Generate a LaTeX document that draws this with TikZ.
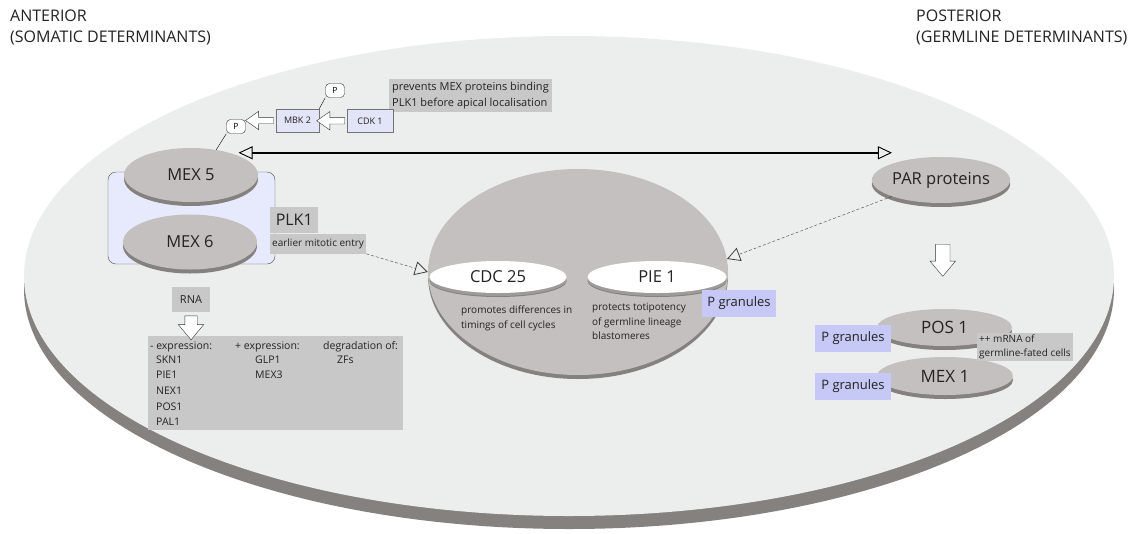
\documentclass[tikz,border=0pt]{standalone}
\usepackage{fontspec}
\setmainfont{Open Sans}
\usepackage{tikz}
\usetikzlibrary{calc,shapes.geometric,shapes.arrows,arrows.meta,shadows,positioning}
\definecolor{cellgrey}{RGB}{236,238,237}
\definecolor{rimgrey}{RGB}{133,129,127}
\definecolor{diskgrey}{RGB}{195,192,191}
\definecolor{boxgrey}{RGB}{200,200,200}
\definecolor{kinase}{RGB}{226,228,247}
\definecolor{granule}{RGB}{198,200,245}
\definecolor{mexback}{RGB}{230,234,252}
\definecolor{inktext}{RGB}{35,35,35}
\tikzstyle{disk}=[ellipse,fill=diskgrey,inner sep=0pt,text=inktext,font=\fontsize{16.5}{20}\selectfont,drop shadow={shadow xshift=0pt,shadow yshift=-4pt,fill=rimgrey,opacity=1}]
\tikzstyle{lens}=[disk,fill=white,drop shadow={shadow xshift=0pt,shadow yshift=-3pt,fill=rimgrey!80,opacity=1}]
\tikzstyle{greybox}=[rectangle,fill=boxgrey,inner sep=3pt,text=inktext,align=left]
\tikzstyle{kinasebox}=[rectangle,draw=black!55,fill=kinase,inner sep=0pt,minimum height=23pt,text=inktext,font=\fontsize{9}{11}\selectfont]
\tikzstyle{pbox}=[rectangle,rounded corners=4pt,draw=black!80,fill=white,inner sep=0pt,minimum width=19pt,minimum height=14pt,font=\fontsize{8.5}{10}\selectfont]
\tikzstyle{granulebox}=[rectangle,fill=granule,minimum width=76pt,minimum height=27pt,inner sep=0pt,text=inktext,font=\fontsize{13}{15}\selectfont]
\tikzstyle{hollow}=[single arrow,draw=black!80,fill=white,thin]
\tikzstyle{smalltext}=[font=\fontsize{10}{15}\selectfont,text=inktext,align=left,inner sep=0pt]
\tikzstyle{listtext}=[font=\fontsize{10.5}{12}\selectfont,text=inktext,inner sep=0pt]
\tikzstyle{sidetitle}=[anchor=north west,align=left,inner sep=0pt,text=inktext,font=\fontsize{16}{21}\selectfont]
\tikzstyle{boldarrow}=[line width=2.2pt,{Triangle[open,length=14pt,width=13pt,line width=0.9pt]}-{Triangle[open,length=14pt,width=13pt,line width=0.9pt]}]
\tikzstyle{faintarrow}=[thin,densely dashed,draw=black!75,-{Triangle[open,length=13pt,width=14pt,line width=0.8pt]}]

\begin{document}
\begin{tikzpicture}[x=1pt,y=-1pt]
\useasboundingbox (0,0) rectangle (1134,533);
\fill[white] (0,0) rectangle (1134,533);
\fill[rimgrey] (569,289) ellipse [x radius=545pt,y radius=240pt];
\fill[cellgrey] (569,276) ellipse [x radius=545pt,y radius=240pt];

\draw (10,10) node [sidetitle] (ant) {ANTERIOR\\(SOMATIC DETERMINANTS)};
\draw (916,10) node [sidetitle] (post) {POSTERIOR\\(GERMLINE DETERMINANTS)};

\draw (191.5,218) node [rectangle,rounded corners=8pt,draw=black!70,fill=mexback,minimum width=167pt,minimum height=92pt] (pair) {};
\draw (191,175) node [disk,minimum width=134pt,minimum height=54pt] (mex5) {MEX 5};
\draw (190,242) node [disk,minimum width=134pt,minimum height=55pt] (mex6) {MEX 6};

\draw (389,79) node [greybox,anchor=north west,font=\fontsize{11}{16}\selectfont] (prev) {prevents MEX proteins binding\\PLK1 before apical localisation};
\draw (297.5,120.5) node [kinasebox,minimum width=43pt] (mbk) {MBK 2};
\draw (370,121) node [kinasebox,minimum width=46pt] (cdk) {CDK 1};
\draw (335,90.5) node [pbox] (pmbk) {P};
\draw (236,126.5) node [pbox] (pmex) {P};
\draw[thin] (mbk.north east) -- (pmbk.south west);
\draw[thin] (pmex.south west) -- (mex5.45);
\draw ($(cdk.west)!0.5!(mbk.east)$) node [hollow,shape border rotate=180,inner sep=3pt,minimum height=28pt,single arrow head extend=6pt,single arrow tip angle=70] (cdkarrow) {};
\draw ($(mbk.west)+(-14,0)$) node [hollow,shape border rotate=180,inner sep=3pt,minimum height=28pt,single arrow head extend=6pt,single arrow tip angle=70] (mbkarrow) {};

\draw (270,207) node [greybox,anchor=north west,inner sep=0pt,minimum width=48pt,minimum height=26pt,font=\fontsize{16}{18}\selectfont] (plk) {PLK1};
\node [greybox,below right=0pt and 0pt of plk.south west,inner sep=2pt,minimum height=20pt,font=\fontsize{10}{12}\selectfont] (plkinfo) {earlier mitotic entry};

\draw (191,299.5) node [greybox,inner sep=0pt,minimum width=38pt,minimum height=25pt,font=\fontsize{11}{13}\selectfont] (rna) {RNA};
\draw (148,336) node [greybox,anchor=north west,minimum width=255pt,minimum height=94pt] (targets) {};
\draw ($(rna.south)!0.5!(targets.north -| rna.south)$) node [hollow,shape border rotate=270,inner sep=6pt,minimum height=24pt,single arrow head extend=6.5pt,single arrow tip angle=80] (rnaarrow) {};
\draw (150,349) node [listtext,anchor=base west] (hdminus) {- expression:};
\draw (235,349) node [listtext,anchor=base west] (hdplus) {+ expression:};
\draw (323,349) node [listtext,anchor=base west] (hddeg) {degradation of:};
\foreach \gene [count=\i from 0] in {SKN1,PIE1,NEX1,POS1,PAL1}
  \draw (156,363+15.7*\i) node [listtext,anchor=base west] (minus\i) {\gene};
\foreach \gene [count=\i from 0] in {GLP1,MEX3}
  \draw (255,363+15.7*\i) node [listtext,anchor=base west] (plus\i) {\gene};
\draw (337,363) node [listtext,anchor=base west] (deg0) {ZFs};

\draw (578,272) node [disk,minimum width=300pt,minimum height=206pt] (core) {};
\draw (498,277) node [lens,minimum width=137pt,minimum height=32pt] (cdc) {CDC 25};
\draw (657,277) node [lens,minimum width=139pt,minimum height=32pt] (pie) {PIE 1};
\draw (461,306) node [smalltext,anchor=north west] (cdcnote) {promotes differences in\\timings of cell cycles};
\draw (592,303) node [smalltext,anchor=north west,font=\fontsize{10}{14.5}\selectfont] (pienote) {protects totipotency\\of germline lineage\\blastomeres};
\draw (739,303.5) node [granulebox,minimum width=74pt] (pgcore) {P granules};

\draw (941,180) node [disk,minimum width=132pt,minimum height=46pt] (par) {PAR proteins};
\coordinate (hook) at ([yshift=3pt]mex5.north east);
\draw[boldarrow] (hook) -- (hook -| par.north west);
\draw[faintarrow] (plkinfo.south east) -- (core.west);
\draw[faintarrow] (par.south west) -- (core.5);

\draw (944.5,327.5) node [disk,minimum width=135pt,minimum height=37pt,font=\fontsize{17}{20}\selectfont] (pos1) {POS 1};
\draw (945,376) node [disk,minimum width=136pt,minimum height=38pt,font=\fontsize{17}{20}\selectfont] (mex1) {MEX 1};
\draw ($(par.south)!0.5!(pos1.north)$) node [hollow,shape border rotate=270,inner sep=7pt,minimum height=32pt,single arrow head extend=5.5pt,single arrow tip angle=80] (pararrow) {};
\draw (853,338.5) node [granulebox] (pgpos) {P granules};
\draw (853,386) node [granulebox] (pgmex) {P granules};
\draw (977,333) node [greybox,anchor=north west,inner sep=2pt,font=\fontsize{10}{14}\selectfont] (mrna) {++ mRNA of\\germline-fated cells};
\end{tikzpicture}
\end{document}
